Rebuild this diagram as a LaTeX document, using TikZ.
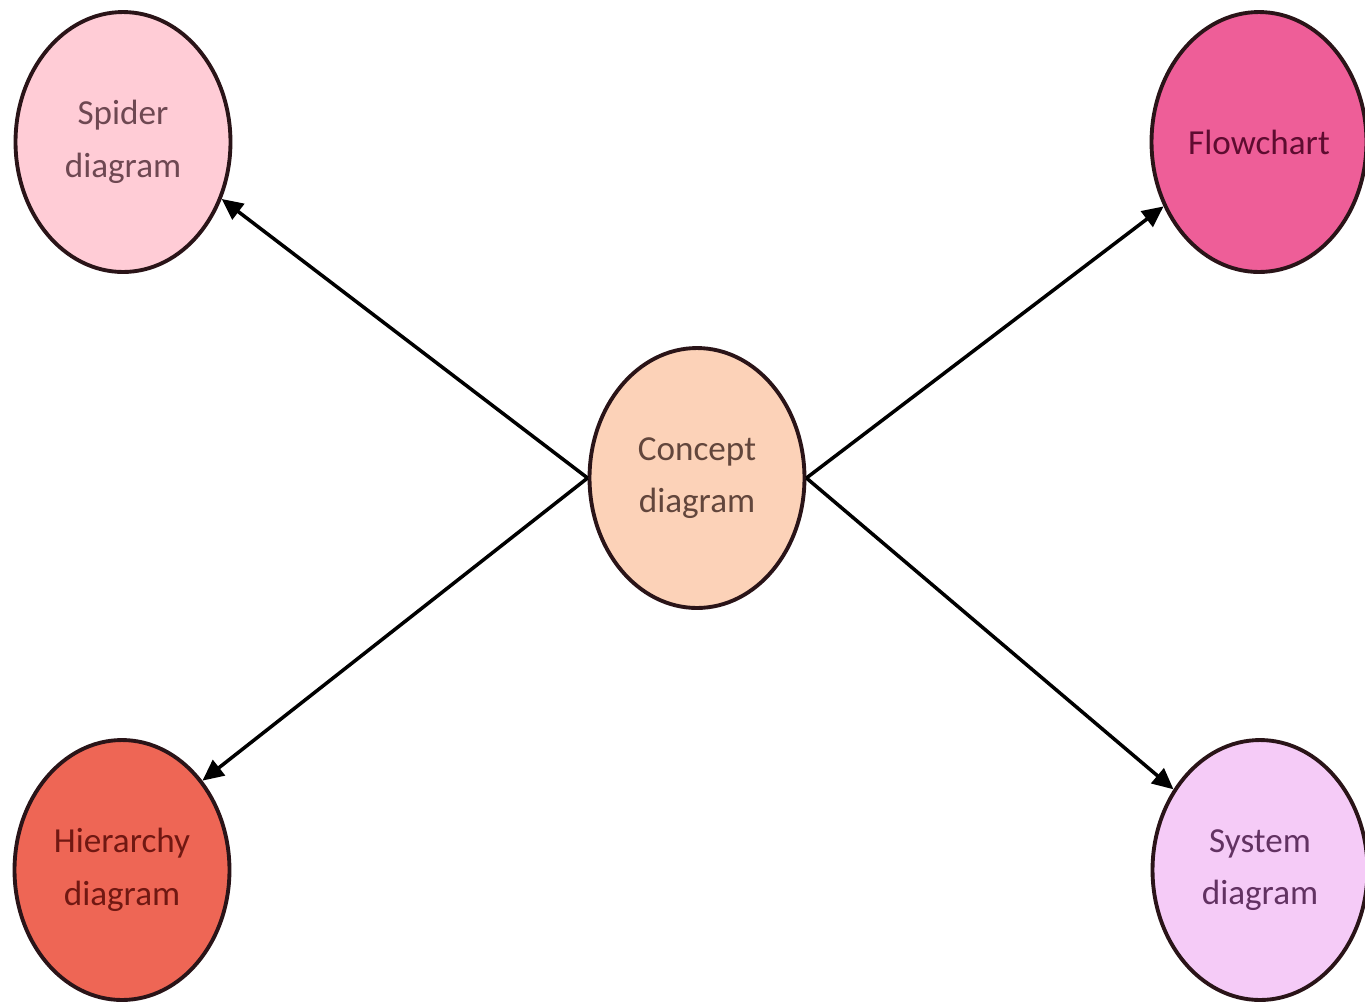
\documentclass[tikz,border=0pt]{standalone}
\usepackage{fontspec}
\setmainfont{Carlito}
\usetikzlibrary{shapes.geometric,arrows.meta}
\definecolor{spfill}{HTML}{FFCCD6}
\definecolor{sptext}{HTML}{6E4852}
\definecolor{flfill}{HTML}{EE5E98}
\definecolor{fltext}{HTML}{5E0C30}
\definecolor{cofill}{HTML}{FCD2B8}
\definecolor{cotext}{HTML}{62463C}
\definecolor{hifill}{HTML}{EE6655}
\definecolor{hitext}{HTML}{701812}
\definecolor{syfill}{HTML}{F5CBF7}
\definecolor{sytext}{HTML}{623262}
\definecolor{outline}{HTML}{2A1418}
\begin{document}
\begin{tikzpicture}[x=0.02cm,y=-0.02cm,
  bubble/.style={ellipse, draw=outline, line width=2.2pt, inner sep=0pt,
    minimum width=4.3cm, minimum height=5.2cm, align=center,
    font=\fontsize{20}{30}\selectfont},
  link/.style={line width=2pt, -{Triangle[length=12pt,width=11pt]}}]
\useasboundingbox (0,0) rectangle (1365,1002);
\node[bubble, fill=spfill, text=sptext] (sp) at (123,142) {Spider\\diagram};
\node[bubble, fill=flfill, text=fltext] (fl) at (1259,142) {Flowchart};
\node[bubble, fill=cofill, text=cotext] (co) at (697,478) {Concept\\diagram};
\node[bubble, fill=hifill, text=hitext] (hi) at (122,870) {Hierarchy\\diagram};
\node[bubble, fill=syfill, text=sytext] (sy) at (1260,870) {System\\diagram};
\draw[link] (co.west) -- (sp.-30);
\draw[link] (co.east) -- (fl.214);
\draw[link] (co.west) -- (hi.48);
\draw[link] (co.east) -- (sy.137);
\end{tikzpicture}
\end{document}
